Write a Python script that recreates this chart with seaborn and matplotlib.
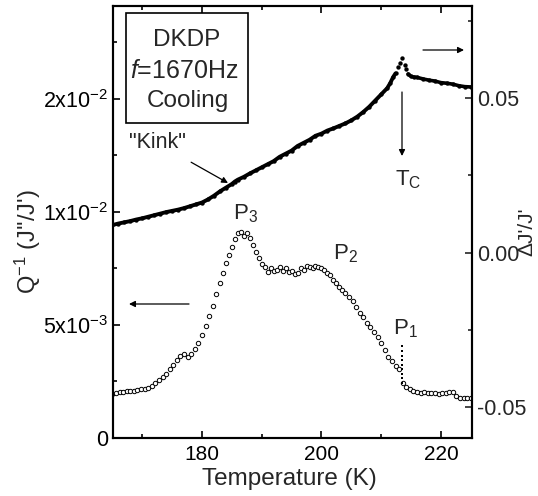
import numpy as np
import pandas as pd
import matplotlib
matplotlib.use("Agg")
import matplotlib.pyplot as plt
import seaborn as sns
from matplotlib.ticker import FixedLocator, FixedFormatter

# ---------------- data ----------------
# Q^-1 (open circles), temperature in K, values in units of 1e-3
q_temp = [165.0, 165.6, 166.2, 166.8, 167.4, 168.0, 168.6, 169.2, 169.8, 170.4,
          171.0, 171.6, 172.2, 172.8, 173.4, 174.0, 174.6, 175.2, 175.8, 176.4,
          177.0, 177.6, 178.2, 178.8, 179.4, 180.0, 180.6, 181.2, 181.8, 182.4,
          183.0, 183.5, 184.0, 184.5, 185.0, 185.5, 186.0, 186.5, 187.0, 187.5,
          188.0, 188.5, 189.0, 189.5, 190.0, 190.5, 191.0, 191.5, 192.0, 192.5,
          193.0, 193.5, 194.0, 194.5, 195.0, 195.5, 196.0, 196.5, 197.0, 197.5,
          198.0, 198.5, 199.0, 199.5, 200.0, 200.5, 201.0, 201.5, 202.0, 202.5,
          203.0, 203.5, 204.0, 204.6, 205.2, 205.8, 206.4, 207.0, 207.6, 208.2,
          208.8, 209.4, 210.0, 210.6, 211.2, 211.8, 212.4, 213.0, 213.6, 214.2,
          214.8, 215.4, 216.0, 216.6, 217.2, 217.8, 218.4, 219.0, 219.6, 220.2,
          220.8, 221.4, 222.0, 222.6, 223.2, 223.8, 224.4, 225.0]
q_val = [1.95, 2.00, 2.02, 2.04, 2.06, 2.08, 2.10, 2.12, 2.15, 2.16,
         2.22, 2.32, 2.45, 2.55, 2.70, 2.85, 3.05, 3.25, 3.45, 3.62,
         3.72, 3.58, 3.72, 3.95, 4.20, 4.55, 4.95, 5.40, 5.85, 6.35,
         6.85, 7.30, 7.75, 8.10, 8.45, 8.80, 9.05, 9.10, 8.95, 9.05,
         8.85, 8.55, 8.25, 7.95, 7.70, 7.55, 7.35, 7.50, 7.40, 7.45,
         7.55, 7.40, 7.50, 7.35, 7.40, 7.25, 7.30, 7.50, 7.45, 7.60,
         7.55, 7.50, 7.60, 7.55, 7.50, 7.45, 7.30, 7.20, 7.00, 6.85,
         6.70, 6.55, 6.40, 6.25, 6.05, 5.80, 5.55, 5.35, 5.10, 4.90,
         4.70, 4.45, 4.20, 3.90, 3.60, 3.40, 3.20, 3.05, 2.45, 2.25,
         2.15, 2.10, 2.05, 2.00, 2.02, 2.00, 1.98, 1.98, 1.96, 1.98,
         2.00, 2.02, 2.04, 1.85, 1.78, 1.78, 1.76, 1.76]

# vertical dotted drop at P1 (small filled dots), units 1e-3
p1_temp = [213.4, 213.4, 213.4, 213.4, 213.4, 213.4, 213.4, 213.4, 213.4]
p1_val = [4.05, 3.85, 3.65, 3.45, 3.25, 3.05, 2.85, 2.65, 2.45]

# Delta J'/J' (filled circles), right axis
j_temp = [165.0, 166, 167, 168, 169, 170, 171, 172, 173, 174, 175, 176, 177, 178,
          179, 180, 181, 182, 183, 184, 185, 185.5, 186, 187, 188, 189, 190, 191,
          192, 193, 194, 195, 196, 197, 198, 199, 200, 201, 202, 203, 204, 205,
          206, 207, 208, 209, 210, 211, 211.5, 212, 212.4, 212.8, 213.2, 213.5,
          213.9, 214.2, 214.5, 215, 215.5, 216, 217, 218, 219, 220, 221, 222,
          223, 224, 225]
j_val = [0.0089, 0.0094, 0.0098, 0.0102, 0.0107, 0.0111, 0.0116, 0.0121, 0.0126,
         0.0131, 0.0135, 0.0139, 0.0144, 0.0150, 0.0156, 0.0162, 0.0172, 0.0184,
         0.0198, 0.0210, 0.0222, 0.0230, 0.0236, 0.0245, 0.0256, 0.0266, 0.0276,
         0.0286, 0.0296, 0.0310, 0.0320, 0.0330, 0.0345, 0.0355, 0.0365, 0.0378,
         0.0385, 0.0395, 0.0402, 0.0410, 0.0418, 0.0428, 0.0440, 0.0455, 0.0472,
         0.0492, 0.0512, 0.0532, 0.0548, 0.0568, 0.0580, 0.0600, 0.0615, 0.0630,
         0.0608, 0.0595, 0.0578, 0.0570, 0.0568, 0.0567, 0.0562, 0.0558, 0.0555,
         0.0550, 0.0548, 0.0545, 0.0540, 0.0537, 0.0536]

x_ticks = [180, 200, 220]
left_ticks = [0.0, 0.005, 0.010, 0.015]
left_tick_labels = ["0", "5x10$^{-3}$", "1x10$^{-2}$", "2x10$^{-2}$"]
right_ticks = [-0.05, 0.0, 0.05]
right_tick_labels = ["-0.05", "0.00", "0.05"]

# ---------------- styling ----------------
sns.set_style("ticks")
plt.rcParams["font.family"] = ["Liberation Sans", "DejaVu Sans"]
plt.rcParams["mathtext.fontset"] = "custom"
plt.rcParams["mathtext.rm"] = "Liberation Sans"
plt.rcParams["mathtext.it"] = "Liberation Sans:italic"
plt.rcParams["mathtext.default"] = "regular"

W, H = 538, 496
fig = plt.figure(figsize=(W / 100, H / 100), dpi=100)
ax = fig.add_axes([113 / W, 1 - 438 / H, (472 - 113) / W, (438 - 6) / H])
ax2 = ax.twinx()

dfq = pd.DataFrame({"T": q_temp, "Q": np.array(q_val) * 1e-3})
dfp1 = pd.DataFrame({"T": p1_temp, "Q": np.array(p1_val) * 1e-3})
dfj = pd.DataFrame({"T": j_temp, "J": j_val})

sns.scatterplot(data=dfq, x="T", y="Q", ax=ax, marker="o", s=10,
                facecolor="white", edgecolor="black", linewidth=0.7, zorder=3)
sns.scatterplot(data=dfp1, x="T", y="Q", ax=ax, marker="s", s=3,
                color="black", linewidth=0, zorder=4)

seg_a = dfj[dfj["T"] <= 212.4]
seg_b = dfj[dfj["T"] >= 214.5]
sns.lineplot(data=seg_a, x="T", y="J", ax=ax2, color="black", lw=2.8, zorder=2)
sns.lineplot(data=seg_b, x="T", y="J", ax=ax2, color="black", lw=2.6, zorder=2)
sns.scatterplot(data=dfj, x="T", y="J", ax=ax2, marker="o", s=10,
                color="black", linewidth=0, zorder=3)

ax.set_xlim(165.1, 225.2)
ax.set_ylim(0, 0.019115)
ax2.set_ylim(-0.0600, 0.0798)

ax.xaxis.set_major_locator(FixedLocator(x_ticks))
ax.xaxis.set_minor_locator(FixedLocator([170, 190, 210]))
ax.yaxis.set_major_locator(FixedLocator(left_ticks))
ax.yaxis.set_major_formatter(FixedFormatter(left_tick_labels))
ax.yaxis.set_minor_locator(FixedLocator([0.0025, 0.0075, 0.0125, 0.0175]))
ax2.yaxis.set_major_locator(FixedLocator(right_ticks))
ax2.yaxis.set_major_formatter(FixedFormatter(right_tick_labels))
ax2.yaxis.set_minor_locator(FixedLocator([-0.025, 0.025, 0.075]))

for a in (ax, ax2):
    for sp in a.spines.values():
        sp.set_linewidth(1.5)
        sp.set_visible(True)
        sp.set_color("black")
ax.tick_params(axis="both", which="both", direction="in", width=1.2,
               labelsize=15.5, colors="black", top=True)
ax.tick_params(which="major", length=5)
ax.tick_params(which="minor", length=3)
ax.tick_params(axis="x", pad=5, labelsize=15)
ax.tick_params(axis="y", right=False)
ax2.tick_params(axis="y", which="both", direction="in", width=1.2, labelsize=15.5)
ax2.tick_params(which="major", length=5)
ax2.tick_params(which="minor", length=3)

ax.set_xlabel("")
ax.set_ylabel("")
ax2.set_ylabel("")

# ---------------- labels & annotations (image-pixel positions) ----------------
def fp(x, y):
    return (x, H - y)

fig.text(289 / W, 1 - 485 / H, "Temperature (K)", ha="center", va="baseline", fontsize=17.5)
fig.text(28 / W, 1 - 242 / H, "Q$^{-1}$ (J''/J')", ha="center", va="center",
         rotation=90, fontsize=17)
fig.text(527 / W, 1 - 232 / H, "ΔJ'/J'", ha="center", va="center",
         rotation=90, fontsize=15)

fig.add_artist(plt.Rectangle((126 / W, 1 - 123 / H), (248 - 126) / W, (123 - 13) / H,
                             transform=fig.transFigure, fill=False, lw=1.2,
                             edgecolor="black", zorder=5))
fig.text(187 / W, 1 - 40 / H, "DKDP", ha="center", va="center", fontsize=17.5)
fig.text(184 / W, 1 - 71 / H, "$\\mathit{f}$=1670Hz", ha="center", va="center", fontsize=18)
fig.text(188 / W, 1 - 101 / H, "Cooling", ha="center", va="center", fontsize=17.5)

ax.annotate('"Kink"', xy=fp(228, 183), xycoords="figure pixels",
            xytext=fp(157, 143), textcoords="figure pixels",
            ha="center", va="center", fontsize=15.5,
            arrowprops=dict(arrowstyle="-|>", color="black", lw=0.9,
                            shrinkA=8, shrinkB=0, mutation_scale=9))
ax.annotate("", xy=fp(402, 156), xycoords="figure pixels",
            xytext=fp(402, 92), textcoords="figure pixels",
            arrowprops=dict(arrowstyle="-|>", color="black", lw=0.9,
                            shrinkA=0, shrinkB=0, mutation_scale=9))
ax.annotate("", xy=fp(464, 50), xycoords="figure pixels",
            xytext=fp(423, 50), textcoords="figure pixels",
            arrowprops=dict(arrowstyle="-|>", color="black", lw=0.9,
                            shrinkA=0, shrinkB=0, mutation_scale=9))
ax.annotate("", xy=fp(129, 304), xycoords="figure pixels",
            xytext=fp(189, 304), textcoords="figure pixels",
            arrowprops=dict(arrowstyle="-|>", color="black", lw=0.9,
                            shrinkA=0, shrinkB=0, mutation_scale=9))

fig.text(408 / W, 1 - 180 / H, "T$_C$", ha="center", va="center", fontsize=16)
fig.text(245 / W, 1 - 214 / H, "P$_3$", ha="center", va="center", fontsize=16)
fig.text(345 / W, 1 - 254 / H, "P$_2$", ha="center", va="center", fontsize=16)
fig.text(405 / W, 1 - 329 / H, "P$_1$", ha="center", va="center", fontsize=16)

fig.savefig("out.png", dpi=100)
